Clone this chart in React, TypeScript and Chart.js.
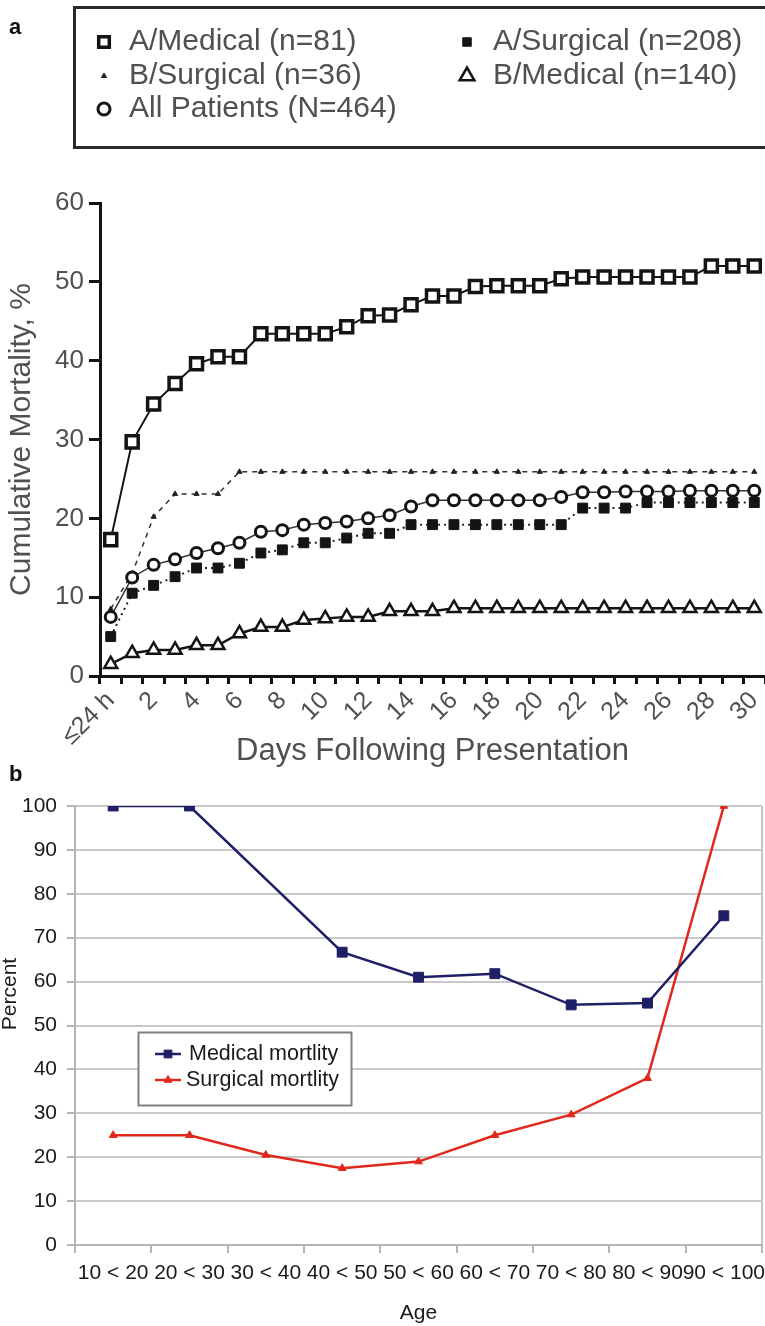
import React, { useEffect, useRef } from 'react';
import { Chart, registerables } from 'chart.js';

Chart.register(...registerables);

const FONT = '"Liberation Sans", Arial, Helvetica, sans-serif';

// ---------- Panel a data ----------
const dayLabels = ['≤24 h', '1', '2', '3', '4', '5', '6', '7', '8', '9', '10', '11', '12', '13', '14', '15',
  '16', '17', '18', '19', '20', '21', '22', '23', '24', '25', '26', '27', '28', '29', '30'];
const yTicksA = [0, 10, 20, 30, 40, 50, 60];

const aMedical = [17.3, 29.7, 34.5, 37.1, 39.6, 40.5, 40.5, 43.4, 43.4, 43.4, 43.4, 44.3, 45.7, 45.8, 47.1, 48.2,
  48.2, 49.4, 49.5, 49.5, 49.5, 50.4, 50.6, 50.6, 50.6, 50.6, 50.6, 50.6, 52.0, 52.0, 52.0];
const aSurgical = [5.0, 10.5, 11.5, 12.6, 13.7, 13.7, 14.3, 15.6, 16.0, 16.9, 16.9, 17.5, 18.1, 18.1, 19.2, 19.2,
  19.2, 19.2, 19.2, 19.2, 19.2, 19.2, 21.3, 21.3, 21.3, 22.0, 22.0, 22.0, 22.0, 22.0, 22.0];
const bSurgical = [8.5, 13.0, 20.2, 23.1, 23.1, 23.1, 25.9, 25.9, 25.9, 25.9, 25.9, 25.9, 25.9, 25.9, 25.9, 25.9,
  25.9, 25.9, 25.9, 25.9, 25.9, 25.9, 25.9, 25.9, 25.9, 25.9, 25.9, 25.9, 25.9, 25.9, 25.9];
const allPatients = [7.5, 12.5, 14.1, 14.8, 15.6, 16.2, 16.9, 18.3, 18.5, 19.2, 19.4, 19.6, 20.0, 20.4, 21.5, 22.3,
  22.3, 22.3, 22.3, 22.3, 22.3, 22.7, 23.3, 23.3, 23.4, 23.4, 23.4, 23.5, 23.5, 23.5, 23.5];
const bMedical = [1.5, 2.9, 3.3, 3.3, 3.9, 3.9, 5.4, 6.2, 6.2, 7.1, 7.3, 7.5, 7.5, 8.2, 8.2, 8.2,
  8.6, 8.6, 8.6, 8.6, 8.6, 8.6, 8.6, 8.6, 8.6, 8.6, 8.6, 8.6, 8.6, 8.6, 8.6];

// ---------- Panel b data ----------
const ageGroups = ['10 < 20', '20 < 30', '30 < 40', '40 < 50', '50 < 60', '60 < 70', '70 < 80', '80 < 90', '90 < 100'];
const medicalMortality = [100, 100, null, 66.7, 61.0, 61.8, 54.7, 55.1, 75.0];
const surgicalMortality = [25, 25, 20.5, 17.5, 19, 25, 29.7, 38, 100];

function drawMarker(ctx: CanvasRenderingContext2D, style: string, x: number, y: number, r: number,
  fill: string, stroke: string, lw: number) {
  ctx.save();
  ctx.beginPath();
  if (style === 'rect') {
    const s = r * Math.SQRT1_2;
    ctx.rect(x - s, y - s, 2 * s, 2 * s);
  } else if (style === 'triangle') {
    let rad = 0;
    for (let i = 0; i < 3; i++) {
      const px = x + Math.sin(rad) * r;
      const py = y - Math.cos(rad) * r;
      if (i === 0) ctx.moveTo(px, py); else ctx.lineTo(px, py);
      rad += (2 * Math.PI) / 3;
    }
    ctx.closePath();
  } else {
    ctx.arc(x, y, r, 0, Math.PI * 2);
  }
  ctx.fillStyle = fill;
  ctx.fill();
  if (lw > 0) {
    ctx.lineWidth = lw;
    ctx.strokeStyle = stroke;
    ctx.stroke();
  }
  ctx.restore();
}

const boxLegendPlugin = {
  id: 'boxLegend',
  afterDraw(chart: any, _args: any, opts: any) {
    if (!opts || !opts.items) return;
    const ctx: CanvasRenderingContext2D = chart.ctx;
    ctx.save();
    const [bx, by, bw, bh] = opts.box;
    ctx.fillStyle = '#ffffff';
    ctx.fillRect(bx, by, bw, bh);
    ctx.lineWidth = opts.borderWidth;
    ctx.strokeStyle = opts.borderColor;
    ctx.strokeRect(bx, by, bw, bh);
    ctx.font = `${opts.fontSize}px ${FONT}`;
    ctx.textBaseline = 'middle';
    ctx.textAlign = 'left';
    for (const it of opts.items) {
      const ds = chart.data.datasets[it.dataset];
      if (it.line) {
        ctx.save();
        ctx.beginPath();
        ctx.strokeStyle = ds.borderColor;
        ctx.lineWidth = ds.borderWidth;
        ctx.moveTo(it.x - it.line, it.y);
        ctx.lineTo(it.x + it.line, it.y);
        ctx.stroke();
        ctx.restore();
      }
      drawMarker(ctx, ds.pointStyle, it.x, it.y, it.r ?? ds.pointRadius, ds.pointBackgroundColor,
        ds.pointBorderColor, ds.pointBorderWidth);
      ctx.fillStyle = opts.color;
      ctx.fillText(ds.label, it.tx, it.y);
    }
    ctx.restore();
  },
};

// keep the horizontal scale from reserving room for overhanging tick labels
function noSidePadding(s: any, h: number) {
  s.height = h;
  s.paddingLeft = 0;
  s.paddingRight = 0;
}

export default function App() {
  const refA = useRef<HTMLCanvasElement>(null);
  const refB = useRef<HTMLCanvasElement>(null);

  useEffect(() => {
    const inkA = '#141414';
    const textA = '#505050';
    const chartA = new Chart(refA.current!, {
      type: 'line',
      data: {
        labels: dayLabels,
        datasets: [
          { label: 'B/Medical (n=140)', data: bMedical, borderColor: inkA, borderWidth: 2.5, pointStyle: 'triangle',
            pointRadius: 7.5, pointBackgroundColor: '#ffffff', pointBorderColor: inkA, pointBorderWidth: 2.5 },
          { label: 'A/Surgical (n=208)', data: aSurgical, borderColor: '#222', borderWidth: 2, borderDash: [2, 4],
            pointStyle: 'rect', pointRadius: 7, pointBackgroundColor: inkA, pointBorderColor: inkA, pointBorderWidth: 1 },
          { label: 'All Patients (N=464)', data: allPatients, borderColor: '#333', borderWidth: 1.5, pointStyle: 'circle',
            pointRadius: 5.5, pointBackgroundColor: '#ffffff', pointBorderColor: inkA, pointBorderWidth: 3 },
          { label: 'B/Surgical (n=36)', data: bSurgical, borderColor: '#333', borderWidth: 1.5, borderDash: [5, 5],
            pointStyle: 'triangle', pointRadius: 3, pointBackgroundColor: '#222', pointBorderColor: '#222', pointBorderWidth: 1 },
          { label: 'A/Medical (n=81)', data: aMedical, borderColor: inkA, borderWidth: 2, pointStyle: 'rect',
            pointRadius: 8.5, pointBackgroundColor: '#ffffff', pointBorderColor: inkA, pointBorderWidth: 3.5 },
        ] as any,
      },
      options: {
        responsive: false,
        animation: false,
        devicePixelRatio: 1,
        layout: { autoPadding: false, padding: { top: 203, right: 0, left: 0, bottom: 0 } },
        plugins: {
          legend: { display: false },
          tooltip: { enabled: false },
          boxLegend: {
            box: [74.5, 7.5, 720, 140],
            borderWidth: 3,
            borderColor: '#2a2a2a',
            fontSize: 30,
            color: textA,
            items: [
              { dataset: 4, x: 104, y: 42, tx: 129, r: 7.5 },
              { dataset: 1, x: 467, y: 42, tx: 493, r: 6 },
              { dataset: 3, x: 104, y: 76, tx: 129, r: 3 },
              { dataset: 0, x: 467, y: 76, tx: 493, r: 8.5 },
              { dataset: 2, x: 104, y: 109, tx: 129, r: 6 },
            ],
          },
        } as any,
        scales: {
          x: {
            type: 'category',
            offset: true,
            grid: { offset: true, drawOnChartArea: false, color: inkA, lineWidth: 3, tickLength: 8 },
            border: { color: inkA, width: 3 },
            ticks: {
              autoSkip: false,
              minRotation: 45,
              maxRotation: 45,
              padding: 2,
              color: textA,
              font: { size: 25, family: FONT },
              callback: (_v: any, i: number) => (i % 2 === 0 ? dayLabels[i] : ''),
            },
            title: { display: true, text: 'Days Following Presentation', color: textA,
              font: { size: 31, family: FONT }, padding: { top: 0, bottom: 0 } },
            afterFit: (s: any) => noSidePadding(s, 94),
          },
          y: {
            min: 0,
            max: 60,
            afterBuildTicks: (s: any) => { s.ticks = yTicksA.map((v) => ({ value: v })); },
            grid: { drawOnChartArea: false, color: inkA, lineWidth: 3, tickLength: 11 },
            border: { color: inkA, width: 3 },
            ticks: { color: textA, font: { size: 26, family: FONT }, padding: 5 },
            title: { display: true, text: 'Cumulative Mortality, %', color: textA,
              font: { size: 30, family: FONT }, padding: { top: 4, bottom: 0 } },
            afterFit: (s: any) => { s.width = 100; },
          },
        },
      } as any,
      plugins: [boxLegendPlugin as any],
    });

    const navy = '#1e1f66';
    const red = '#e2281c';
    const axisGray = '#b4b4b4';
    const chartB = new Chart(refB.current!, {
      type: 'line',
      data: {
        labels: ageGroups,
        datasets: [
          { label: 'Medical mortlity', data: medicalMortality, borderColor: navy, borderWidth: 2.5, pointStyle: 'rect',
            pointRadius: 7, pointBackgroundColor: navy, pointBorderColor: navy, pointBorderWidth: 1, spanGaps: true },
          { label: 'Surgical mortlity', data: surgicalMortality, borderColor: red, borderWidth: 2.5, pointStyle: 'triangle',
            pointRadius: 4.5, pointBackgroundColor: red, pointBorderColor: red, pointBorderWidth: 1 },
        ] as any,
      },
      options: {
        responsive: false,
        animation: false,
        devicePixelRatio: 1,
        layout: { autoPadding: false, padding: { top: 36, right: 3, left: 0, bottom: 0 } },
        plugins: {
          legend: { display: false },
          tooltip: { enabled: false },
          boxLegend: {
            box: [138.5, 262.5, 213, 73],
            borderWidth: 2,
            borderColor: '#808080',
            fontSize: 21.5,
            color: '#1a1a1a',
            items: [
              { dataset: 0, x: 168, y: 284, tx: 189, line: 13, r: 5.5 },
              { dataset: 1, x: 168, y: 310, tx: 186, line: 13, r: 4.5 },
            ],
          },
        } as any,
        scales: {
          x: {
            type: 'category',
            offset: true,
            grid: {
              offset: true,
              drawOnChartArea: true,
              color: (c: any) => (c.type === 'scale' ? '#c4c4c4' : 'rgba(0,0,0,0)'),
              tickColor: axisGray,
              lineWidth: 2,
              tickLength: 8,
            },
            border: { color: axisGray, width: 2 },
            ticks: { autoSkip: false, maxRotation: 0, minRotation: 0, padding: 8, color: '#1a1a1a',
              font: { size: 21, family: FONT } },
            title: { display: true, text: 'Age', color: '#1a1a1a', font: { size: 21, family: FONT },
              padding: { top: 0, bottom: 0 } },
            afterFit: (s: any) => noSidePadding(s, 81),
          },
          y: {
            min: 0,
            max: 100,
            ticks: { stepSize: 10, padding: 10, color: '#1a1a1a', font: { size: 21, family: FONT } },
            grid: { color: '#c8c8c8', lineWidth: 2, tickLength: 8, tickColor: axisGray },
            border: { color: axisGray, width: 2 },
            afterFit: (s: any) => { s.width = 75; },
          },
        },
      } as any,
      plugins: [boxLegendPlugin as any],
    });

    return () => {
      chartA.destroy();
      chartB.destroy();
    };
  }, []);

  return (
    <div style={{ position: 'absolute', left: 0, top: 0, width: 765, height: 1326, background: '#ffffff',
      fontFamily: FONT, overflow: 'hidden' }}>
      <canvas ref={refA} width={765} height={770} style={{ position: 'absolute', left: 0, top: 0 }} />
      <canvas ref={refB} width={765} height={556} style={{ position: 'absolute', left: 0, top: 770 }} />
      <div style={{ position: 'absolute', left: 9, top: 16, fontWeight: 'bold', fontSize: 22, lineHeight: 1,
        color: '#111' }}>a</div>
      <div style={{ position: 'absolute', left: 9, top: 763, fontWeight: 'bold', fontSize: 22, lineHeight: 1,
        color: '#111' }}>b</div>
      <div style={{ position: 'absolute', left: 8, top: 994, transform: 'translate(-50%, -50%) rotate(-90deg)',
        fontSize: 21, lineHeight: 1, whiteSpace: 'nowrap', color: '#1a1a1a' }}>Percent</div>
    </div>
  );
}
